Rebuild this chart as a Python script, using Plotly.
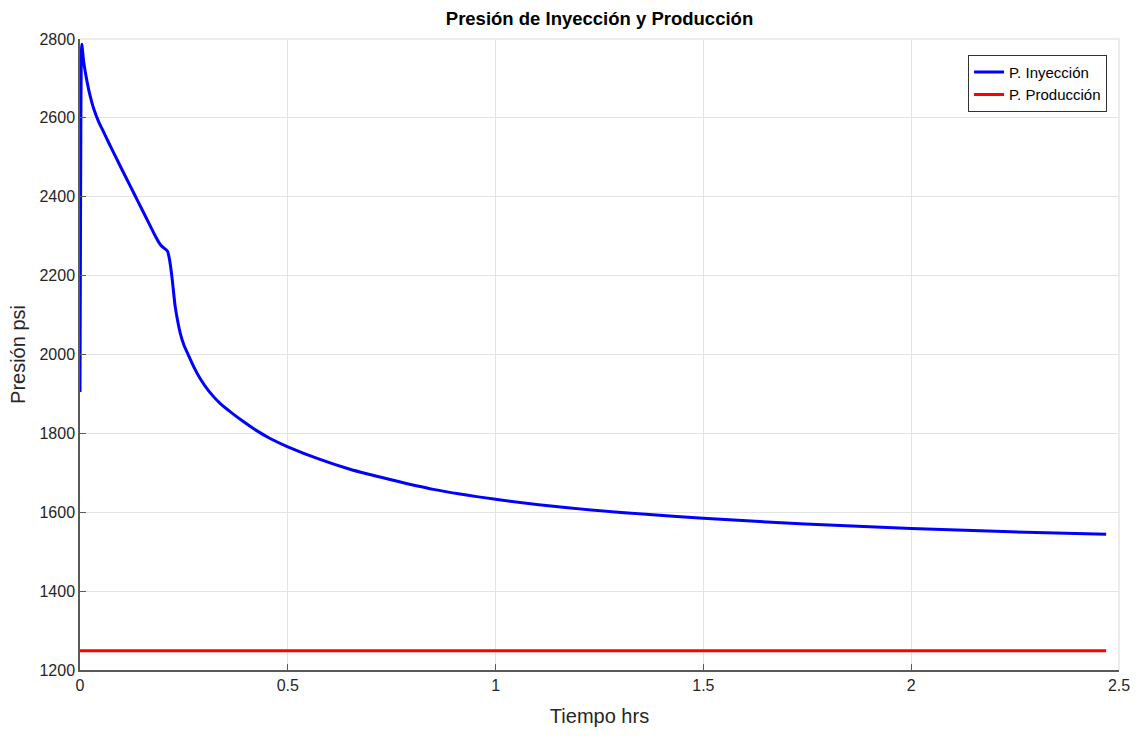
import plotly.graph_objects as go

# Injection pressure readings (time in hours, pressure in psi)
t_iny = [0.0, 0.001, 0.002, 0.003, 0.0043, 0.009, 0.0173, 0.025, 0.033, 0.045,
         0.057, 0.07, 0.085, 0.1, 0.121, 0.14, 0.161, 0.178, 0.193, 0.203,
         0.208, 0.211, 0.2155, 0.2214, 0.229, 0.235, 0.241, 0.25, 0.261,
         0.275, 0.289, 0.31, 0.337, 0.365, 0.393, 0.425, 0.4575, 0.5, 0.5775,
         0.6496, 0.746, 0.85, 1.0, 1.168, 1.37, 1.5, 1.745, 2.0, 2.222, 2.469]
p_iny = [1905, 2250, 2560, 2740, 2787, 2741, 2690, 2653, 2623, 2590,
         2564, 2535, 2503, 2471, 2427, 2387, 2343, 2307, 2279, 2269,
         2265, 2261, 2240, 2195, 2122, 2085, 2055, 2024, 1998,
         1966, 1939, 1907, 1876, 1852, 1830, 1807, 1787, 1766, 1734,
         1709, 1683, 1658, 1633, 1612, 1594, 1585, 1570, 1559, 1551, 1544]

# Production pressure stays constant over the run
t_prod = [0.0, 2.469]
p_prod = [1249, 1249]

x_ticks = [0, 0.5, 1, 1.5, 2, 2.5]
x_tick_text = ["0", "0.5", "1", "1.5", "2", "2.5"]
y_ticks = [1200, 1400, 1600, 1800, 2000, 2200, 2400, 2600, 2800]

font_family = "Liberation Sans, Arial, Helvetica, sans-serif"
text_color = "#262626"
grid_color = "#e3e3e3"
axis_color = "#5a5a5a"

fig = go.Figure()
fig.add_trace(go.Scatter(x=t_iny, y=p_iny, mode="lines", name="P. Inyección",
                         line=dict(color="#0000ff", width=3, shape="spline", smoothing=0.6)))
fig.add_trace(go.Scatter(x=t_prod, y=p_prod, mode="lines", name="P. Producción",
                         line=dict(color="#ff0000", width=3)))

fig.update_layout(
    width=1142, height=738,
    margin=dict(l=80, r=20, t=39, b=68),
    paper_bgcolor="white", plot_bgcolor="white",
    font=dict(family=font_family, size=16, color=text_color),
    title=dict(text="<b>Presión de Inyección y Producción</b>",
               xref="paper", x=0.5, xanchor="center", y=0.975, yanchor="middle",
               font=dict(size=18.5, color="#000000")),
    showlegend=True,
    legend=dict(x=0.9885, xanchor="right", y=0.975, yanchor="top",
                bgcolor="white", bordercolor="#333333", borderwidth=1,
                font=dict(size=15, color="#000000"),
                itemwidth=30, tracegroupgap=0),
)

fig.update_xaxes(
    range=[0, 2.5], tickvals=x_ticks, ticktext=x_tick_text,
    showgrid=True, gridcolor=grid_color, gridwidth=1,
    showline=True, linecolor=axis_color, linewidth=1.5,
    ticks="inside", ticklen=6, tickcolor=axis_color,
    zeroline=False,
    title=dict(text="Tiempo hrs", font=dict(size=20, color=text_color), standoff=16),
)
fig.update_yaxes(
    range=[1200, 2800], tickvals=y_ticks,
    showgrid=True, gridcolor=grid_color, gridwidth=1,
    showline=True, linecolor=axis_color, linewidth=1.5,
    ticks="inside", ticklen=6, tickcolor=axis_color,
    zeroline=False,
    title=dict(text="Presión psi", font=dict(size=20, color=text_color), standoff=8),
)

# Light frame on the top and right sides of the axes box
fig.add_shape(type="line", xref="paper", yref="paper", x0=0, x1=1, y0=1, y1=1,
              line=dict(color="#d9d9d9", width=1), layer="below")
fig.add_shape(type="line", xref="paper", yref="paper", x0=1, x1=1, y0=0, y1=1,
              line=dict(color="#d9d9d9", width=1), layer="below")

fig.write_html("out.html")
